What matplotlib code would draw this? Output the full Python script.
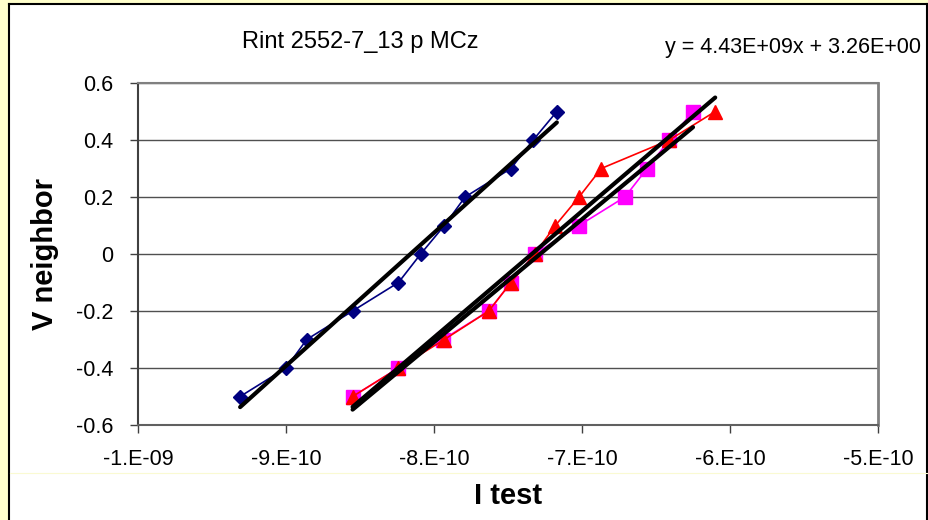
import numpy as np
import matplotlib
matplotlib.use("Agg")
import matplotlib.pyplot as plt
from matplotlib.patches import Rectangle
from matplotlib.lines import Line2D
from matplotlib.ticker import FuncFormatter

plt.rcParams["font.family"] = ["Liberation Sans", "DejaVu Sans"]
plt.rcParams["axes.unicode_minus"] = False

# ── data ──────────────────────────────────────────────────────────────────────
v_levels = [-0.5, -0.4, -0.3, -0.2, -0.1, 0.0, 0.1, 0.2, 0.3, 0.4, 0.5]

i_blue = [-9.31e-10, -9.00e-10, -8.86e-10, -8.55e-10, -8.24e-10, -8.09e-10,
          -7.93e-10, -7.79e-10, -7.48e-10, -7.33e-10, -7.17e-10]
i_magenta = [-8.55e-10, -8.24e-10, -7.94e-10, -7.63e-10, -7.48e-10, -7.32e-10,
             -7.02e-10, -6.71e-10, -6.56e-10, -6.41e-10, -6.25e-10]
i_red = [-8.55e-10, -8.24e-10, -7.93e-10, -7.63e-10, -7.48e-10, -7.32e-10,
         -7.18e-10, -7.02e-10, -6.87e-10, -6.41e-10, -6.10e-10]

x_ticks = [-1.0e-9, -9.0e-10, -8.0e-10, -7.0e-10, -6.0e-10, -5.0e-10]
y_ticks = [-0.6, -0.4, -0.2, 0.0, 0.2, 0.4, 0.6]

title_txt = "Rint 2552-7_13 p MCz"
eq_txt = "y = 4.43E+09x + 3.26E+00"

# ── figure frame ──────────────────────────────────────────────────────────────
W, H = 929, 520
fig = plt.figure(figsize=(W / 100, H / 100), dpi=100)
fig.patch.set_facecolor("#FFFFCC")
fig.patches.append(Rectangle((9 / W, 0), (927 - 9) / W, (H - 4) / H,
                             transform=fig.transFigure, facecolor="white",
                             edgecolor="none", zorder=-10))
fig.lines.append(Line2D([8.5 / W, 8.5 / W], [0, 1 - 3.5 / H], transform=fig.transFigure,
                        color="black", lw=1.5))
fig.lines.append(Line2D([8.5 / W, 927.5 / W], [1 - 3.5 / H, 1 - 3.5 / H],
                        transform=fig.transFigure, color="black", lw=1.5))
fig.lines.append(Line2D([927.5 / W, 927.5 / W], [0, 1 - 3.5 / H], transform=fig.transFigure,
                        color="black", lw=1.5))
fig.lines.append(Line2D([10 / W, 927 / W], [1 - 473 / H, 1 - 473 / H],
                        transform=fig.transFigure, color="#FAFAD2", lw=0.8))

ax = fig.add_axes([138 / W, 1 - 425 / H, (878 - 138) / W, (425 - 83) / H])
ax.set_facecolor("white")

# ── series ────────────────────────────────────────────────────────────────────
ax.plot(i_blue, v_levels, color="#000080", lw=1.2, marker="D", ms=7,
        mfc="#000080", mec="#000080", zorder=3)
ax.plot(i_magenta, v_levels, color="#FF00FF", lw=1.2, marker="s", ms=10,
        mfc="#FF00FF", mec="#FF00FF", zorder=3)
ax.plot(i_red, v_levels, color="#FF0000", lw=1.2, marker="^", ms=10,
        mfc="#FF0000", mec="#FF0000", zorder=4)

# linear trendlines over each series' range
for xs in (i_blue, i_magenta, i_red):
    xs = np.array(xs)
    m, b = np.polyfit(xs, v_levels, 1)
    xl = np.array([xs.min(), xs.max()])
    ax.plot(xl, m * xl + b, color="black", lw=3, solid_capstyle="round", zorder=5)

# ── axes styling ──────────────────────────────────────────────────────────────
ax.set_xlim(-1.0e-9, -5.0e-10)
ax.set_ylim(-0.6, 0.6)
ax.set_xticks(x_ticks)
ax.set_yticks(y_ticks)
ax.xaxis.set_major_formatter(FuncFormatter(lambda v, p: "%#.0E" % v))
ax.yaxis.set_major_formatter(FuncFormatter(lambda v, p: "0" if abs(v) < 1e-12 else "%.1f" % v))
ax.tick_params(axis="both", direction="out", length=6, width=1, color="#404040",
               labelsize=15.5, labelcolor="black")
ax.tick_params(axis="y", pad=12)
ax.tick_params(axis="x", pad=11)

ax.yaxis.grid(True, color="#505050", lw=1)
ax.set_axisbelow(True)
ax.spines["left"].set_color("#404040")
ax.spines["left"].set_linewidth(1.5)
ax.spines["bottom"].set_color("#606060")
ax.spines["bottom"].set_linewidth(1.5)
ax.spines["top"].set_color("#808080")
ax.spines["top"].set_linewidth(1.5)
ax.spines["right"].set_color("#808080")
ax.spines["right"].set_linewidth(2)

ax.set_xlabel("I test", fontsize=21, fontweight="bold", labelpad=9)
ax.set_ylabel("V neighbor", fontsize=21, fontweight="bold", labelpad=12)

fig.text(360 / W, 1 - 42 / H, title_txt, fontsize=17, ha="center", va="center")
fig.text(921 / W, 1 - 47 / H, eq_txt, fontsize=15.5, ha="right", va="center")

fig.savefig("out.png", dpi=100, facecolor=fig.get_facecolor())
